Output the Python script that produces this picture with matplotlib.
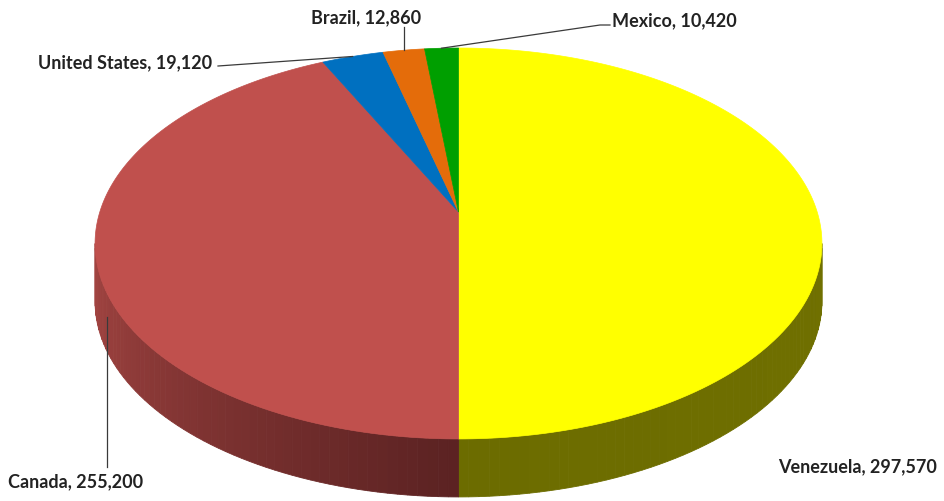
import numpy as np
import matplotlib.pyplot as plt
from matplotlib.patches import Polygon
from matplotlib.colors import to_rgb

# proved oil reserves, million barrels
countries = ["Venezuela", "Canada", "United States", "Brazil", "Mexico"]
reserves = [297570, 255200, 19120, 12860, 10420]

top_colors = ["#FFFF00", "#C0504D", "#0070C0", "#E46C0A", "#009F00"]
# side wall shading: colour at the start and end of the visible run
side_colors = [("#6C6C00", "#707000"), ("#A64643", "#5B2222"),
               ("#003A66", "#003A66"), ("#7A3A05", "#7A3A05"), ("#005500", "#005500")]

# label anchor (text position in pixels) and alignment
label_pos = [(937, 467, "right"), (8, 482, "left"), (38, 63, "left"),
             (311, 18, "left"), (612, 21, "left")]

# pie geometry in pixel space
CX, CY = 458.5, 213.0
RX, RY = 358.7, 190.4
K = 0.161          # perspective factor
DEPTH = 58.0
START = 90.0


def project(theta, drop=0.0):
    t = np.radians(theta)
    u, v = np.cos(t), np.sin(t)
    den = 1 + K * v
    return CX + RX * u / den, CY - RY * v / den + drop


def lerp(c1, c2, f):
    a, b = np.array(to_rgb(c1)), np.array(to_rgb(c2))
    return tuple(a + (b - a) * f)


fig = plt.figure(figsize=(9.45, 5.02), dpi=100)
ax = fig.add_axes([0, 0, 1, 1])
ax.set_xlim(0, 945)
ax.set_ylim(502, 0)
ax.axis("off")

total = float(sum(reserves))
fracs = np.array(reserves) / total
ends = START - np.cumsum(fracs) * 360
starts = ends + fracs * 360

# front side walls
lo = 180 + np.degrees(np.arcsin(K))
hi = 360 - np.degrees(np.arcsin(K))
for t1, t2, (ca, cb) in zip(starts, ends, side_colors):
    for shift in (0, 360, -360):
        a, b = max(t2 + shift, lo), min(t1 + shift, hi)
        if b <= a:
            continue
        edges = np.linspace(a, b, 60)
        for i in range(len(edges) - 1):
            th = np.linspace(edges[i], edges[i + 1], 4)
            xt, yt = project(th)
            xb, yb = project(th[::-1], DEPTH)
            pts = np.column_stack([np.r_[xt, xb], np.r_[yt, yb]])
            col = lerp(ca, cb, (i + 0.5) / (len(edges) - 1))
            ax.add_patch(Polygon(pts, closed=True, facecolor=col,
                                 edgecolor=col, lw=0.6))

# top face
for t1, t2, col in zip(starts, ends, top_colors):
    th = np.linspace(t1, t2, 200)
    x, y = project(th)
    pts = np.column_stack([np.r_[CX, x], np.r_[CY, y]])
    ax.add_patch(Polygon(pts, closed=True, facecolor=col, edgecolor=col, lw=0.5))

# leader lines
mids = (starts + ends) / 2
line_kw = dict(color="#3a3a3a", lw=0.9)
mx, my = project(mids[2])
ax.plot([218, mx], [67, my], **line_kw)
mx, my = project(mids[3])
ax.plot([mx, mx], [28, my], **line_kw)
mx, my = project(mids[4])
ax.plot([610, 600, mx], [26, 26, my], **line_kw)
ax.plot([107, 107], [468, 318], **line_kw)

for name, val, (lx, ly, ha) in zip(countries, reserves, label_pos):
    ax.text(lx, ly, f"{name}, {val:,}", ha=ha, va="center",
            fontsize=13, fontweight="bold", family="Lato", color="#222222")

fig.savefig("out.png", dpi=100)
